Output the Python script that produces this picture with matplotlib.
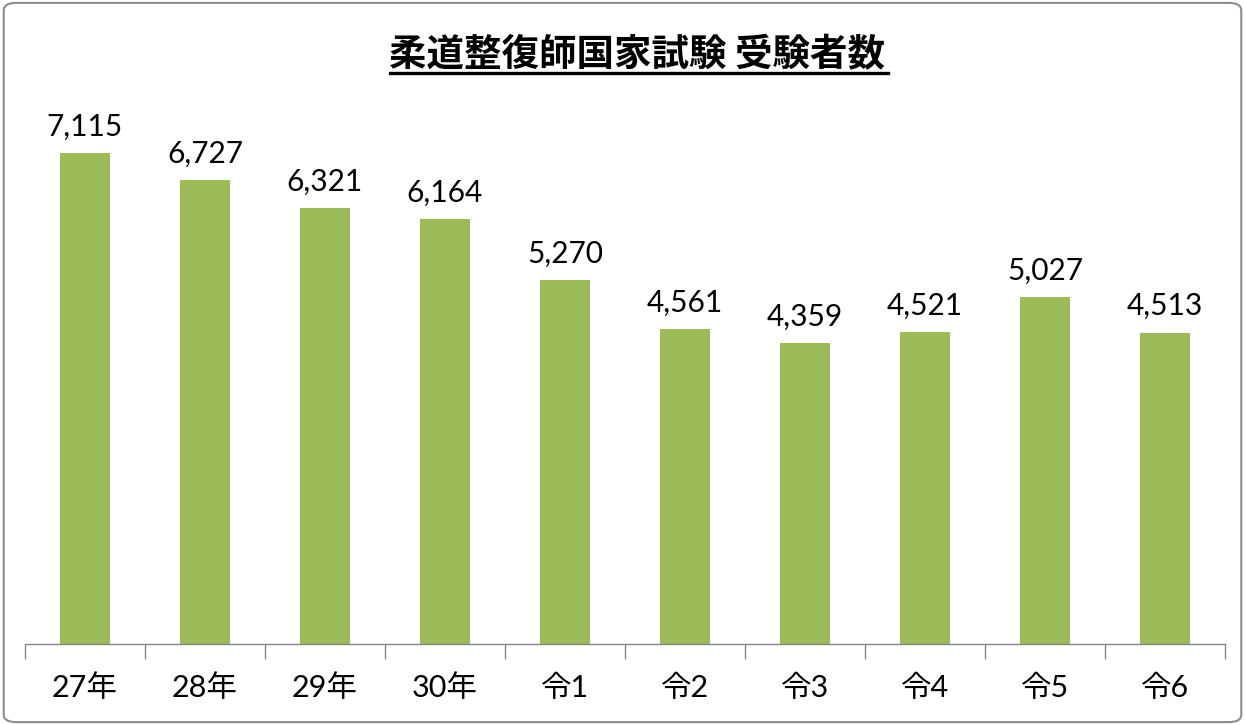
import matplotlib
matplotlib.use('Agg')
import matplotlib.pyplot as plt
from matplotlib.patches import FancyBboxPatch

categories = ['27年', '28年', '29年', '30年', '令1', '令2', '令3', '令4', '令5', '令6']
examinees = [7115, 6727, 6321, 6164, 5270, 4561, 4359, 4521, 5027, 4513]

fonts = ['Lato', 'Noto Sans CJK JP', 'DejaVu Sans']
plt.rcParams['font.family'] = fonts

fig = plt.figure(figsize=(12.45, 7.25), dpi=100)
ax = fig.add_axes([0.020, 0.112, 0.964, 0.761])

x = list(range(len(categories)))
ax.bar(x, examinees, width=0.41, color='#9BBB59', zorder=2)

for xi, v in zip(x, examinees):
    ax.text(xi, v + 180, f'{v:,}', ha='center', va='bottom', fontsize=21.5, color='black')

ax.set_xlim(-0.5, len(categories) - 0.5)
ax.set_ylim(0, 8000)

# ticks between categories, labels at centers
ax.set_xticks([i - 0.5 for i in range(len(categories) + 1)])
ax.set_xticklabels([])
ax.set_xticks(x, minor=True)
ax.set_xticklabels(categories, minor=True, fontsize=22)
ax.tick_params(axis='x', which='major', length=11, color='#868686', width=1)
ax.tick_params(axis='x', which='minor', length=0, pad=22)
ax.set_yticks([])

for s in ['top', 'right', 'left']:
    ax.spines[s].set_visible(False)
ax.spines['bottom'].set_color('#868686')
ax.spines['bottom'].set_linewidth(1)

fig.text(0.5115, 0.924, '柔道整復師国家試験 受験者数', ha='center', va='center',
         fontsize=27, fontweight='bold', family=['Noto Sans CJK JP', 'DejaVu Sans'])
fig.add_artist(plt.Line2D([0.313, 0.713], [0.900, 0.900], color='black', lw=2.4,
                          transform=fig.transFigure))

border = FancyBboxPatch((0.003, 0.004), 0.994, 0.992, boxstyle='round,pad=0,rounding_size=0.01',
                        transform=fig.transFigure, fill=False, edgecolor='#8c8c8c', lw=1.5)
fig.add_artist(border)

fig.savefig('out.png', dpi=100)
